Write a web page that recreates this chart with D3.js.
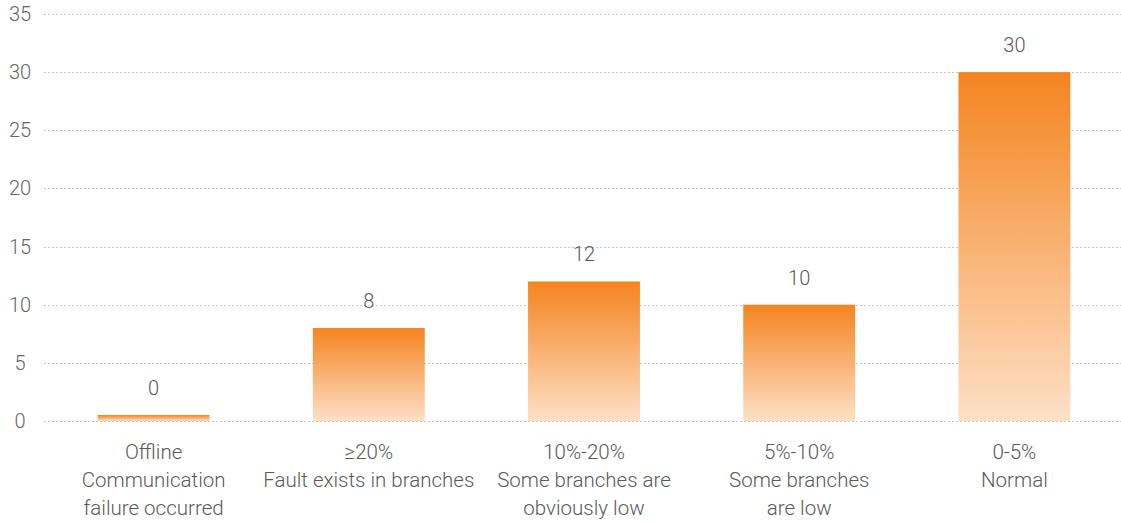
<!DOCTYPE html>
<meta charset="utf-8">
<style>
body { margin: 0; background: #fff; }
text { font-family: Roboto, "DejaVu Sans", sans-serif; font-weight: 300; fill: #5a5a5a; }
.grid line { stroke: #c8c8c8; stroke-dasharray: 2,2; }
</style>
<body>
<script src="https://cdnjs.cloudflare.com/ajax/libs/d3/7.8.5/d3.min.js"></script>
<script>

var categories = [
  ["Offline", "Communication", "failure occurred"],
  ["\u226520%", "Fault exists in branches"],
  ["10%-20%", "Some branches are", "obviously low"],
  ["5%-10%", "Some branches", "are low"],
  ["0-5%", "Normal"]
];
var values = [0, 8, 12, 10, 30];
var yTicks = [0, 5, 10, 15, 20, 25, 30, 35];

var width = 1121, height = 522;

var svg = d3.select("body").append("svg")
    .attr("width", width)
    .attr("height", height);

var defs = svg.append("defs");
var grad = defs.append("linearGradient")
    .attr("id", "barGrad")
    .attr("x1", 0).attr("y1", 0).attr("x2", 0).attr("y2", 1);
grad.append("stop").attr("offset", "0%").attr("stop-color", "#f5841f");
grad.append("stop").attr("offset", "100%").attr("stop-color", "#fde0c6");

var x = d3.scaleBand()
    .domain(d3.range(values.length))
    .range([46, 1122])
    .paddingInner(0.48)
    .paddingOuter(0.24);

var y = d3.scaleLinear()
    .domain([0, 35])
    .range([421, 14]);

// grid
var grid = svg.append("g").attr("class", "grid");
grid.selectAll("line")
  .data(yTicks)
  .enter().append("line")
    .attr("x1", 44)
    .attr("x2", width)
    .attr("y1", function(d) { return Math.round(y(d)) + 0.5; })
    .attr("y2", function(d) { return Math.round(y(d)) + 0.5; });

svg.append("g").selectAll("text")
  .data(yTicks)
  .enter().append("text")
    .attr("x", 20)
    .attr("y", function(d) { return y(d); })
    .attr("dy", "0.35em")
    .attr("text-anchor", "middle")
    .style("font-size", "20px")
    .style("fill", "#666")
    .text(function(d) { return d; });

// bars
svg.append("g").selectAll("rect")
  .data(values)
  .enter().append("rect")
    .attr("x", function(d, i) { return x(i); })
    .attr("width", x.bandwidth())
    .attr("y", function(d) { return Math.min(y(d), y(0) - 6); })
    .attr("height", function(d) { return Math.max(y(0) - y(d), 6); })
    .style("fill", "url(#barGrad)");

// value labels
svg.append("g").selectAll("text")
  .data(values)
  .enter().append("text")
    .attr("x", function(d, i) { return x(i) + x.bandwidth() / 2; })
    .attr("y", function(d) { return Math.min(y(d), y(0) - 6) - 20; })
    .attr("text-anchor", "middle")
    .style("font-size", "20px")
    .text(function(d) { return d; });

// category labels
var cat = svg.append("g").selectAll("text")
  .data(categories)
  .enter().append("text")
    .attr("text-anchor", "middle")
    .style("font-size", "20.5px");

cat.selectAll("tspan")
  .data(function(d, i) { return d.map(function(s) { return {s: s, i: i}; }); })
  .enter().append("tspan")
    .attr("x", function(d) { return x(d.i) + x.bandwidth() / 2; })
    .attr("y", function(d, j) { return 459 + j * 28; })
    .text(function(d) { return d.s; });

</script>
</body>
